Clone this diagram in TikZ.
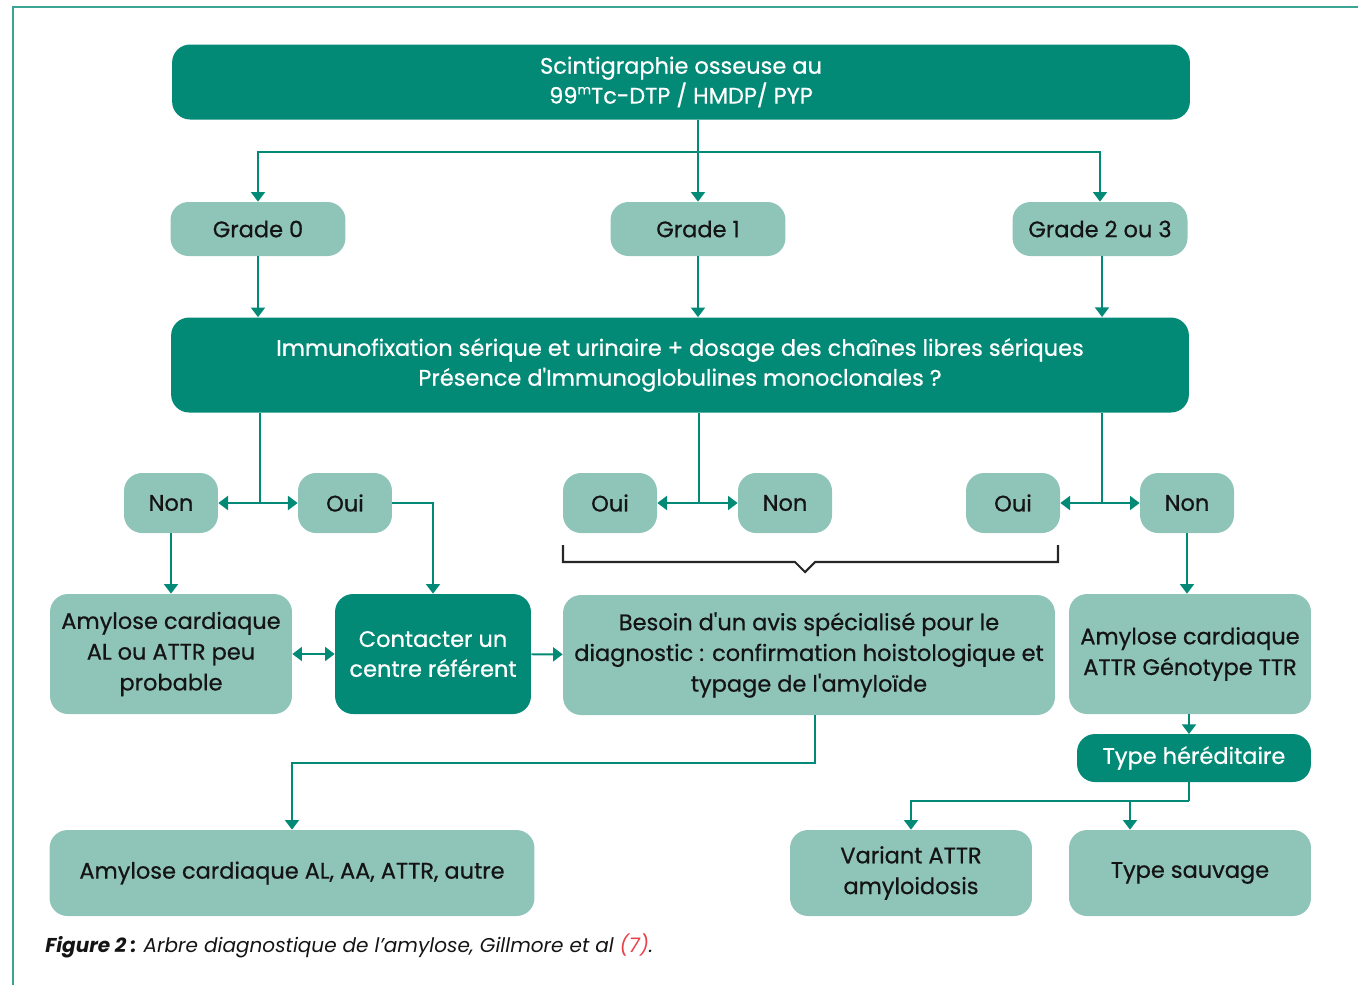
\documentclass[tikz,border=0pt]{standalone}
\usepackage{fontspec}
\setmainfont{Poppins}
\newfontfamily\boxfont{Poppins}[FakeBold=0.6]
\usetikzlibrary{positioning, arrows.meta, calc}
\definecolor{cDark}{HTML}{038A77}
\definecolor{cLight}{HTML}{8FC4B8}
\definecolor{cFrame}{HTML}{3AA595}
\definecolor{cInk}{HTML}{141414}
\definecolor{cRef}{HTML}{E8414A}
\tikzset{
  darkbox/.style  ={rounded corners=0.36cm, fill=cDark, text=white,
                    align=center, inner sep=2pt,
                    font=\boxfont\fontsize{12.8}{17}\selectfont},
  lightbox/.style ={rounded corners=0.36cm, fill=cLight, text=cInk,
                    align=center, inner sep=2pt,
                    font=\boxfont\fontsize{12.8}{17.5}\selectfont},
  link/.style     ={line width=1.1pt, draw=cDark},
  flow/.style     ={-{Triangle[width=8pt,length=5.5pt]}, line width=1.1pt, draw=cDark},
  twoway/.style   ={{Triangle[width=8pt,length=5.5pt]}-{Triangle[width=8pt,length=5.5pt]},
                    line width=1.1pt, draw=cDark},
  brace/.style    ={line width=1.2pt, draw=black!85},
  frame/.style    ={line width=1.2pt, draw=cFrame},
}
\newcommand{\isotope}[1]{\raisebox{0.75ex}{\fontsize{7.5}{8}\selectfont #1}}

\begin{document}
\begin{tikzpicture}[x=0.02cm, y=-0.02cm]
  \useasboundingbox (0,0) rectangle (1358,985);

  % ============================================================
  % FRAME
  % ============================================================
  \draw[frame] (13,985) -- (13,7) -- (1358,7);

  % ============================================================
  % TOP: scintigraphy and grades
  % ============================================================
  \node[darkbox, minimum width=20.36cm, minimum height=1.5cm] (scinti) at (681,82)
    {Scintigraphie osseuse au\\99\isotope{m}Tc-DTP / HMDP/ PYP};

  \node[lightbox, minimum width=3.5cm, minimum height=1.08cm] (grade0) at (258,229) {Grade 0};
  \node[lightbox, minimum width=3.5cm, minimum height=1.08cm] (grade1) at (698,229) {Grade 1};
  \node[lightbox, minimum width=3.5cm, minimum height=1.08cm] (grade23) at (1100,229) {Grade 2 ou 3};

  \coordinate (hub) at (698,152);
  \draw[link] (grade1 |- scinti.south) -- (hub);
  \draw[flow] (hub) -- (grade1);
  \draw[flow] (hub) -| (grade0);
  \draw[flow] (hub) -| (grade23);

  % ============================================================
  % IMMUNOFIXATION
  % ============================================================
  \node[darkbox, minimum width=20.36cm, minimum height=1.9cm] (immuno) at (680,365)
    {Immunofixation sérique et urinaire + dosage des chaînes libres sériques\\
     Présence d\textquotesingle Immunoglobulines monoclonales ?};

  \draw[flow] (grade0) -- (grade0 |- immuno.north);
  \draw[flow] (grade1) -- (grade1 |- immuno.north);
  \draw[flow] (grade23.south -| 1102,0) -- (1102,317);

  % --- Oui / Non answers ---
  \node[lightbox, minimum width=1.88cm, minimum height=1.2cm] (non0) at (171,503) {Non};
  \node[lightbox, minimum width=1.88cm, minimum height=1.2cm] (oui0) at (345,503) {Oui};
  \node[lightbox, minimum width=1.88cm, minimum height=1.2cm] (oui1) at (610,503) {Oui};
  \node[lightbox, minimum width=1.88cm, minimum height=1.2cm] (non1) at (785,503) {Non};
  \node[lightbox, minimum width=1.88cm, minimum height=1.2cm] (oui2) at (1013,503) {Oui};
  \node[lightbox, minimum width=1.88cm, minimum height=1.2cm] (non2) at (1187,503) {Non};

  \coordinate (split0) at (260,503);
  \coordinate (split1) at (699,503);
  \coordinate (split2) at (1102,503);
  \draw[link] (split0 |- immuno.south) -- (split0);
  \draw[link] (split1 |- immuno.south) -- (split1);
  \draw[link] (split2 |- immuno.south) -- (split2);
  \draw[flow] (split0) -- (non0);
  \draw[flow] (split0) -- (oui0);
  \draw[flow] (split1) -- (oui1);
  \draw[flow] (split1) -- (non1);
  \draw[flow] (split2) -- (oui2);
  \draw[flow] (split2) -- (non2);

  % bracket under the three middle answers
  \draw[brace] (563,545) -- (563,562) -- (795,562) -- (805,572)
               -- (815,562) -- (1058,562) -- (1058,545);

  % ============================================================
  % OUTCOMES
  % ============================================================
  \node[lightbox, minimum width=4.84cm, minimum height=2.4cm] (peu) at (171,654)
    {Amylose cardiaque\\AL ou ATTR peu\\probable};
  \node[darkbox, minimum width=3.92cm, minimum height=2.4cm] (centre) at (433,654)
    {Contacter un\\centre référent};
  \node[lightbox, minimum width=9.84cm, minimum height=2.4cm] (avis) at (809,655)
    {Besoin d\textquotesingle un avis spécialisé pour le\\diagnostic : confirmation hoistologique et\\typage de l\textquotesingle amyloïde};
  \node[lightbox, minimum width=4.84cm, minimum height=2.4cm] (attr) at (1190,654)
    {Amylose cardiaque\\ATTR Génotype TTR};

  \draw[flow] (non0) -- (peu);
  \draw[flow] (oui0) -| (centre);
  \draw[twoway] (peu) -- (centre);
  \draw[flow] (centre) -- (avis);
  \draw[flow] (non2) -- (non2 |- attr.north);

  \node[darkbox, minimum width=4.68cm, minimum height=0.96cm] (hered) at (1194,758)
    {Type héréditaire};
  \draw[flow] (1189,714) -- (1189,734);

  % --- bottom row ---
  \node[lightbox, minimum width=9.7cm, minimum height=1.72cm] (typage) at (292,873)
    {Amylose cardiaque AL, AA, ATTR, autre};
  \node[lightbox, minimum width=4.84cm, minimum height=1.72cm] (variant) at (911,873)
    {Variant ATTR\\amyloidosis};
  \node[lightbox, minimum width=4.84cm, minimum height=1.72cm] (sauvage) at (1190,873)
    {Type sauvage};

  \coordinate (turn) at (815,763);
  \draw[flow] (turn |- avis.south) -- (turn) -| (typage);

  \coordinate (fork) at (1189,801);
  \coordinate (fork2) at (1130,801);
  \draw[link] (fork |- hered.south) -- (fork);
  \draw[flow] (fork) -| (variant);
  \draw[flow] (fork2) -- (fork2 |- sauvage.north);

  % ============================================================
  % CAPTION
  % ============================================================
  \node[anchor=base west, inner sep=0pt, text=cInk, font=\fontsize{11.4}{14}\selectfont] (caption) at (45,952)
    {\textbf{\textit{Figure 2~:}} \textit{Arbre diagnostique de l’amylose, Gillmore et al \textcolor{cRef}{(7)}.}};

\end{tikzpicture}
\end{document}
